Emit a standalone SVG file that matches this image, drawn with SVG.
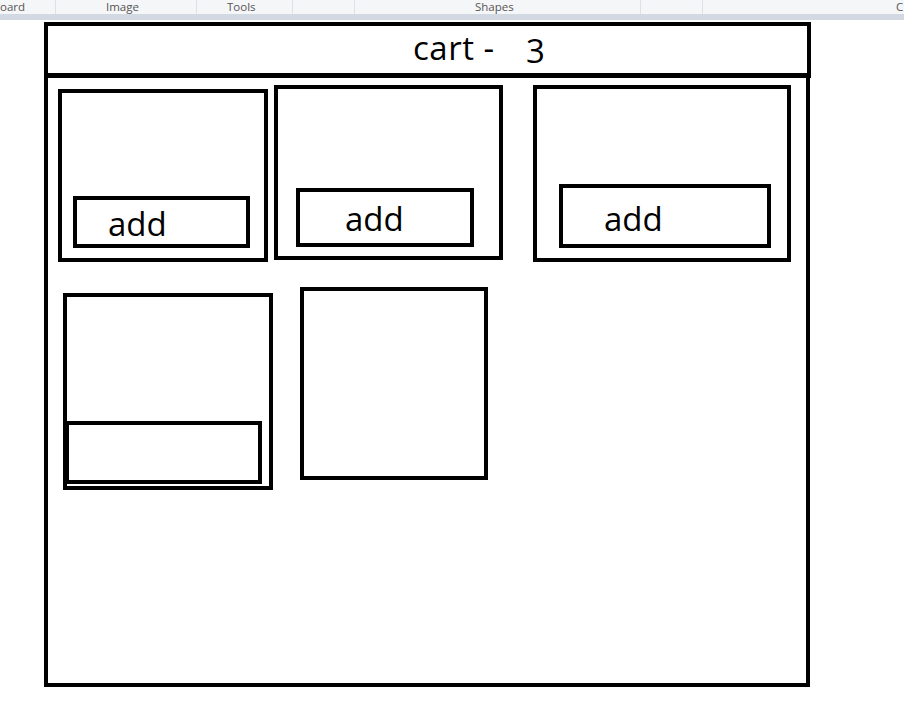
<svg xmlns="http://www.w3.org/2000/svg" width="904" height="716" viewBox="0 0 904 716">
<style>
.box{fill:none;stroke:#000;stroke-width:4}
.lbl{font-family:"Open Sans","Noto Sans",sans-serif;font-size:33px;fill:#000}
.tb{font-family:"Open Sans","Noto Sans",sans-serif;font-size:11.5px;fill:#555}
.sep{stroke:#dde1e6;stroke-width:1}
</style>
<rect x="0" y="0" width="904" height="716" fill="#fff"/>
<g id="toolbar">
<rect x="0" y="0" width="904" height="16" fill="#f5f6f7"/>
<rect x="0" y="14" width="904" height="6" fill="#d3d9e3"/>
<line class="sep" x1="55.5" y1="0" x2="55.5" y2="14"/>
<line class="sep" x1="196.5" y1="0" x2="196.5" y2="14"/>
<line class="sep" x1="292.5" y1="0" x2="292.5" y2="14"/>
<line class="sep" x1="354.5" y1="0" x2="354.5" y2="14"/>
<line class="sep" x1="640.5" y1="0" x2="640.5" y2="14"/>
<line class="sep" x1="702.5" y1="0" x2="702.5" y2="14"/>
<text class="tb" x="0" y="11">oard</text>
<text class="tb" x="106" y="11">Image</text>
<text class="tb" x="227" y="11">Tools</text>
<text class="tb" x="475" y="11">Shapes</text>
<text class="tb" x="896" y="11">C</text>
</g>
<g id="frame">
<rect class="box" x="46" y="75" width="762" height="610"/>
</g>
<g id="header">
<rect class="box" x="46" y="24" width="763" height="51"/>
<line x1="44" y1="75.5" x2="811" y2="75.5" stroke="#000" stroke-width="5"/>
<text class="lbl" x="413" y="60" font-size="33" letter-spacing="0.5">cart -</text>
<text class="lbl" x="526" y="63" font-size="32">3</text>
</g>
<g id="card1">
<rect class="box" x="60" y="91" width="206" height="169"/>
<rect class="box" x="75" y="198" width="173" height="48"/>
<text class="lbl" x="108" y="236">add</text>
</g>
<g id="card2">
<rect class="box" x="276" y="87" width="225" height="171"/>
<rect class="box" x="298" y="190" width="174" height="55"/>
<text class="lbl" x="345" y="231">add</text>
</g>
<g id="card3">
<rect class="box" x="535" y="87" width="254" height="173"/>
<rect class="box" x="561" y="186" width="208" height="60"/>
<text class="lbl" x="604" y="231">add</text>
</g>
<g id="card4">
<rect class="box" x="65" y="295" width="206" height="193"/>
<rect class="box" x="67" y="423" width="193" height="59"/>
</g>
<g id="card5">
<rect class="box" x="302" y="289" width="184" height="189"/>
</g>
<g id="connectors"></g>
</svg>
